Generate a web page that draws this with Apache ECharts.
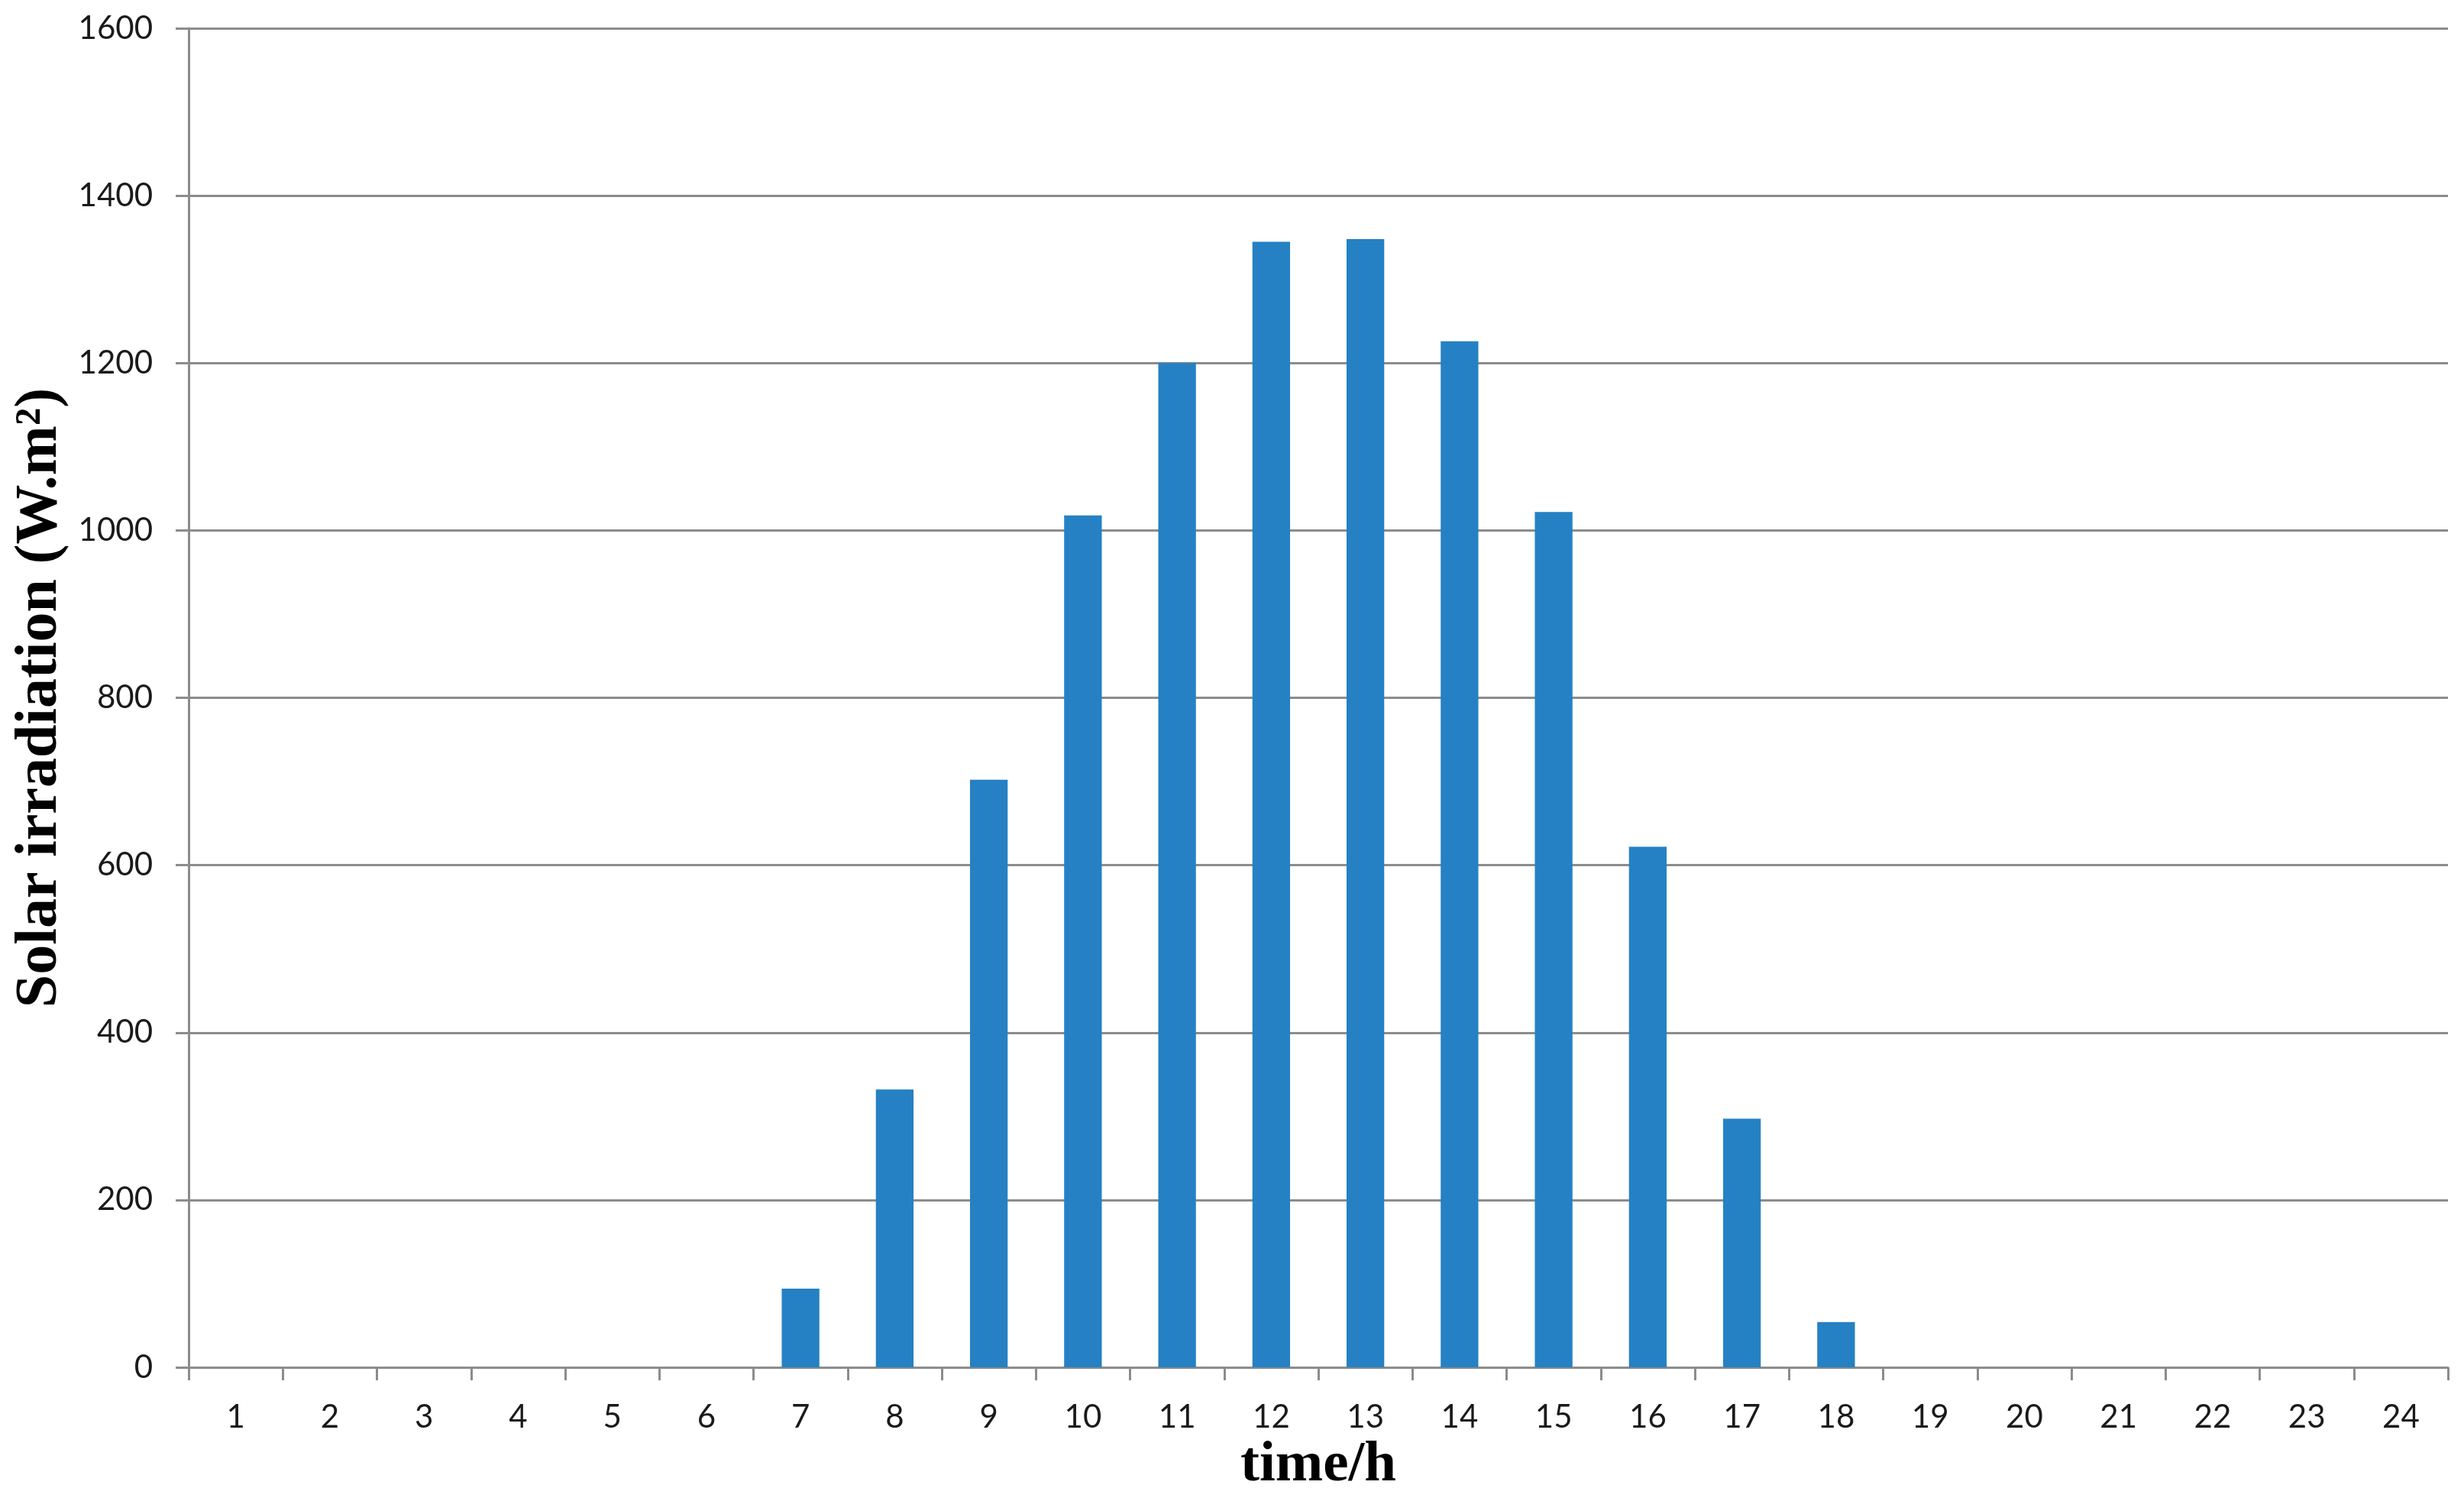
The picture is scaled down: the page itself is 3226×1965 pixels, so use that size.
<!DOCTYPE html>
<html>
<head>
<meta charset="utf-8">
<script src="https://cdn.jsdelivr.net/npm/echarts@6/dist/echarts.min.js"></script>
<style>
  html, body { margin: 0; padding: 0; background: #fff; }
</style>
</head>
<body>
<div id="chart" style="width: 3226px; height: 1965px"></div>
<script>
// hours of the day
const hours = ['1', '2', '3', '4', '5', '6', '7', '8', '9', '10', '11', '12',
  '13', '14', '15', '16', '17', '18', '19', '20', '21', '22', '23', '24']
// solar irradiation per hour, W.m2
const irradiation = [0, 0, 0, 0, 0, 0, 94, 332, 702, 1018, 1200, 1345,
  1348, 1226, 1022, 622, 297, 54, 0, 0, 0, 0, 0, 0]
const yTicks = [0, 200, 400, 600, 800, 1000, 1200, 1400, 1600]

const myChart = echarts.init(document.getElementById('chart'))
const option = {
  animation: false,
  grid: {
    left: 247,
    right: 21,
    top: 37,
    bottom: 175
  },
  xAxis: {
    type: 'category',
    data: hours,
    name: 'time/h',
    nameLocation: 'middle',
    nameGap: 90,
    nameTextStyle: {
      fontFamily: 'Liberation Serif',
      fontWeight: 'bold',
      fontSize: 75,
      color: '#000'
    },
    axisLine: {
      lineStyle: { color: '#8c8c8c', width: 3 }
    },
    axisTick: {
      show: true,
      length: 17,
      lineStyle: { color: '#8c8c8c', width: 3 }
    },
    axisLabel: {
      fontFamily: 'Lato',
      fontSize: 42,
      color: '#1a1a1a',
      margin: 44,
      interval: 0
    }
  },
  yAxis: {
    type: 'value',
    min: yTicks[0],
    max: yTicks[yTicks.length - 1],
    interval: 200,
    name: 'Solar irradiation (W.m²)',
    nameLocation: 'middle',
    nameGap: 150,
    nameTextStyle: {
      fontFamily: 'Liberation Serif',
      fontWeight: 'bold',
      fontSize: 78,
      color: '#000'
    },
    axisLine: {
      show: true,
      lineStyle: { color: '#8c8c8c', width: 3 }
    },
    axisTick: {
      show: true,
      length: 17,
      lineStyle: { color: '#8c8c8c', width: 3 }
    },
    axisLabel: {
      fontFamily: 'Lato',
      fontSize: 42,
      color: '#1a1a1a',
      margin: 47,
      formatter: function (value) {
        return String(value)
      }
    },
    splitLine: {
      show: true,
      lineStyle: { color: '#8c8c8c', width: 3 }
    }
  },
  series: [
    {
      name: 'Solar irradiation',
      type: 'bar',
      data: irradiation,
      barWidth: '40%',
      itemStyle: { color: '#2581C3' }
    }
  ]
}
myChart.setOption(option)
</script>
</body>
</html>
